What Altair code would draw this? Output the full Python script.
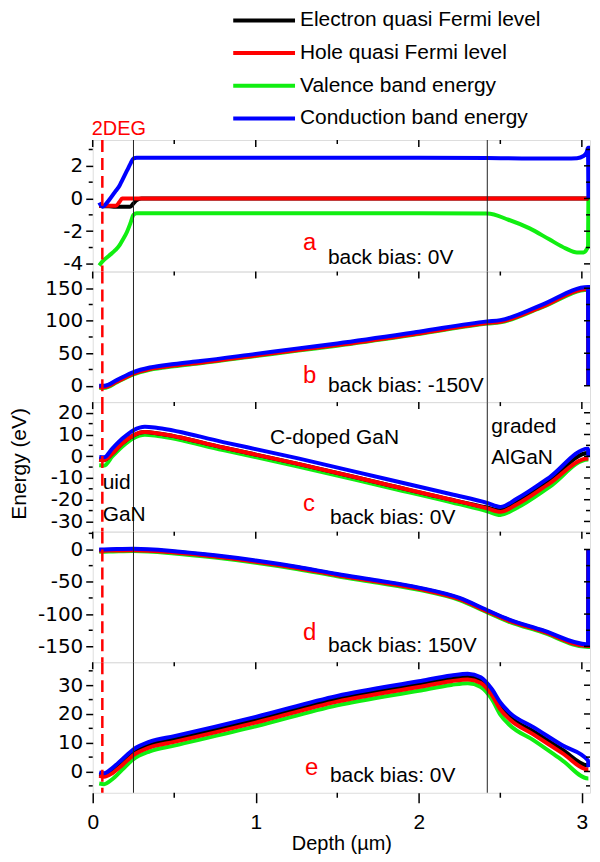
import altair as alt
import pandas as pd

FONT = "Liberation Sans"
TICK_FONT = "DejaVu Sans"
W = 499
X_DOMAIN = [0, 3.05]

series_names = ["Electron quasi Fermi level", "Hole quasi Fermi level",
                "Valence band energy", "Conduction band energy"]
series_colors = ["#000000", "#ff0000", "#11ee11", "#0000ff"]
draw_order = [2, 0, 1, 3]  # valence, electron, hole, conduction

x_major = [0, 1, 2, 3]
x_minor = [0.5, 1.5, 2.5]
region_bounds = [0.25, 2.42]
deg_pos = [0.059]

# ---------------- panel a : back bias 0V ----------------
xa = [0.04, 0.06, 0.10, 0.14, 0.165, 0.18, 0.21, 0.23, 0.25, 0.27, 0.30,
      0.5, 1.0, 1.5, 2.0, 2.42, 2.55, 2.68, 2.8, 2.9, 2.97, 3.01, 3.03, 3.038, 3.04]
efn_a = [-0.45, -0.47, -0.48, -0.5, -0.5, -0.5, -0.5, -0.5, -0.3, -0.1, 0.0,
         0.0, 0.0, 0.0, 0.0, 0.0, 0.0, 0.0, 0.0, 0.0, 0.0, 0.0, 0.0, 0.0, 0.0]
efp_a = [-0.45, -0.45, -0.45, -0.45, -0.2, 0.0, 0.0, 0.0, 0.0, 0.0, 0.0,
         0.0, 0.0, 0.0, 0.0, 0.0, 0.0, 0.0, 0.0, 0.0, 0.0, 0.0, 0.0, 0.0, 0.0]
ev_a = [-4.1, -3.85, -3.5, -3.15, -2.85, -2.6, -2.05, -1.55, -1.0, -0.9, -0.9,
        -0.9, -0.9, -0.9, -0.9, -0.92, -1.3, -1.83, -2.5, -3.05, -3.3, -3.3, -3.1, -2.9, 0.0]
ec_a = [-0.25, -0.5, -0.1, 0.45, 0.8, 1.1, 1.7, 2.1, 2.45, 2.5, 2.5,
        2.5, 2.5, 2.5, 2.5, 2.48, 2.46, 2.45, 2.45, 2.45, 2.47, 2.6, 2.85, 3.1, 0.0]

# ---------------- panel b : back bias -150V ----------------
xb = [0.04, 0.07, 0.15, 0.25, 0.35, 0.5, 0.66, 1.0, 1.26, 1.5, 2.0, 2.42, 2.5, 2.75, 3.038, 3.04]
efn_b = [-1.0, -1.0, 7.5, 19.5, 26.5, 32.0, 36.5, 47.5, 56.0, 63.5, 81.5, 97.5, 99.5, 122.0, 150.0, 0.0]
efp_b = [-2.0, -2.0, 6.5, 18.5, 25.5, 31.0, 35.5, 46.5, 55.0, 62.5, 80.5, 96.5, 98.5, 121.0, 149.0, 0.0]
ev_b = [-3.4, -3.4, 5.6, 17.6, 24.6, 30.1, 34.6, 45.6, 54.1, 61.6, 79.6, 95.6, 97.6, 120.0, 147.5, 0.0]
ec_b = [0.0, 0.0, 9.0, 21.0, 28.0, 33.5, 38.0, 49.0, 57.5, 65.0, 83.0, 99.0, 101.0, 124.0, 152.0, 0.0]

# ---------------- panel c : back bias 0V ----------------
xc = [0.04, 0.07, 0.12, 0.18, 0.25, 0.32, 0.4, 0.8, 1.26, 1.8, 2.2, 2.42, 2.5, 2.6, 2.8, 3.038, 3.04]
efn_c = [-1.5, -1.8, 1.2, 5.9, 9.6, 11.1, 10.5, 4.0, -3.5, -13.0, -20.0, -23.6, -24.8, -21.3, -11.4, 1.5, 1.5]
efp_c = [-1.5, -1.8, 1.2, 5.9, 9.6, 11.1, 10.5, 4.0, -3.5, -13.0, -20.0, -24.0, -25.6, -22.2, -12.6, -1.0, -1.0]
ev_c = [-4.2, -4.3, -0.1, 4.4, 8.3, 9.9, 9.3, 2.8, -4.7, -14.2, -21.2, -25.3, -27.0, -23.8, -14.2, -1.5, -1.5]
ec_c = [-0.3, -0.5, 3.5, 8.0, 12.0, 13.6, 13.0, 6.5, -1.0, -10.5, -17.5, -21.5, -23.3, -19.6, -9.8, 3.5, -0.5]

# ---------------- panel d : back bias 150V ----------------
xd = [0.04, 0.1, 0.25, 0.5, 0.75, 1.0, 1.26, 1.5, 1.75, 2.0, 2.25, 2.42, 2.55, 2.75, 3.038, 3.04]
efn_d = [-1.0, -0.7, 0.0, -3.6, -10.0, -18.0, -28.0, -39.0, -49.0, -60.0, -76.0, -95.0, -109.0, -125.0, -148.5, 0.0]
efp_d = [-2.0, -1.7, -1.0, -4.6, -11.0, -19.0, -29.0, -40.0, -50.0, -61.0, -77.0, -96.0, -110.0, -126.0, -149.5, 0.0]
ev_d = [-3.5, -3.3, -2.5, -6.2, -12.6, -20.6, -30.6, -41.5, -51.5, -62.5, -78.5, -97.5, -111.5, -127.5, -151.0, 0.0]
ec_d = [0.0, 0.3, 1.0, -2.6, -9.0, -17.0, -27.0, -38.0, -48.0, -59.0, -75.0, -94.0, -108.0, -124.0, -147.0, 0.0]

# ---------------- panel e : back bias 0V ----------------
xe = [0.04, 0.07, 0.12, 0.18, 0.25, 0.35, 0.5, 1.0, 1.5, 2.0, 2.2, 2.3, 2.38, 2.45, 2.5, 2.56, 2.7, 2.88, 3.038, 3.04]
efn_e = [-1.0, -1.3, 0.3, 3.2, 6.7, 9.4, 11.3, 18.0, 25.3, 30.4, 32.4, 33.0, 31.8, 27.5, 22.8, 19.0, 14.1, 7.6, 2.1, 2.1]
efp_e = [-1.5, -1.8, -0.6, 2.2, 5.7, 8.4, 10.3, 17.0, 24.3, 29.4, 31.4, 32.0, 30.8, 26.5, 21.6, 18.0, 13.0, 6.4, 0.7, 0.7]
ev_e = [-4.2, -4.4, -2.7, 0.6, 4.3, 7.0, 9.0, 15.7, 23.0, 28.1, 30.1, 30.7, 29.4, 25.0, 19.8, 16.0, 11.0, 3.9, -2.4, -2.4]
ec_e = [-0.3, -0.6, 1.2, 4.2, 7.7, 10.4, 12.3, 19.0, 26.3, 31.4, 33.4, 34.0, 32.8, 28.5, 24.0, 20.3, 15.5, 9.1, 3.8, 1.5]

panels = [
    dict(x=xa, s=[efn_a, efp_a, ev_a, ec_a], dom=[-4.47, 3.58], h=132,
         major=[-4, -2, 0, 2], minor=[-3, -1, 1, 3],
         letter="a", bias="back bias: 0V", lpos=(211, 110), bpos=(236, 124)),
    dict(x=xb, s=[efn_b, efp_b, ev_b, ec_b], dom=[-25.2, 175.7], h=131,
         major=[0, 50, 100, 150], minor=[25, 75, 125],
         letter="b", bias="back bias: -150V", lpos=(211, 112), bpos=(236, 121)),
    dict(x=xc, s=[efn_c, efp_c, ev_c, ec_c], dom=[-34.7, 24.9], h=130,
         major=[-30, -20, -10, 0, 10, 20], minor=[-25, -15, -5, 5, 15],
         letter="c", bias="back bias: 0V", lpos=(211, 109), bpos=(238, 122)),
    dict(x=xd, s=[efn_d, efp_d, ev_d, ec_d], dom=[-174.5, 27.6], h=131,
         major=[-150, -100, -50, 0], minor=[-125, -75, -25, 25],
         letter="d", bias="back bias: 150V", lpos=(211, 109), bpos=(236, 121)),
    dict(x=xe, s=[efn_e, efp_e, ev_e, ec_e], dom=[-7.4, 38.0], h=131,
         major=[0, 10, 20, 30], minor=[-5, 5, 15, 25, 35],
         letter="e", bias="back bias: 0V", lpos=(213, 113), bpos=(238, 120)),
]

region_texts = [("uid", 10, 87), ("GaN", 10, 119), ("C-doped GaN", 178, 42),
                ("graded", 400, 31), ("AlGaN", 400, 62)]

HYPHEN_LABEL = "datum.value < 0 ? '-' + abs(datum.value) : '' + datum.value"


def txt(s, x, y, size=21, color="black", angle=0, align="left", baseline="alphabetic"):
    kw = dict(align=align, baseline=baseline, fontSize=size, font=FONT, color=color)
    if angle:
        kw["angle"] = angle
    return alt.Chart(pd.DataFrame({"t": [s]})).mark_text(**kw).encode(
        x=alt.value(x), y=alt.value(y), text="t:N")


def make_panel(i, p):
    last = i == len(panels) - 1
    H = p["h"]
    xs = alt.Scale(domain=X_DOMAIN, nice=False, zero=False)
    ys = alt.Scale(domain=p["dom"], nice=False, zero=False)
    yaxis = alt.Axis(values=p["major"], labelExpr=HYPHEN_LABEL, tickSize=7, tickWidth=1.5,
                     tickColor="black", domain=False, grid=False, labelFont=TICK_FONT,
                     labelFontSize=20, labelColor="black", labelPadding=3,
                     labelOverlap=False, title=None)
    if last:
        xaxis = alt.Axis(values=x_major, format="d", tickSize=10, tickWidth=1.5,
                         tickColor="black", domain=False, grid=False, labelFont=FONT,
                         labelFontSize=21, labelColor="black", labelPadding=9,
                         labelFlush=False, labelOverlap=False,
                         title="Depth (\u00b5m)", titleFont=FONT, titleFontSize=20,
                         titleFontWeight="normal", titleColor="black",
                         titleBaseline="alphabetic", titlePadding=17)
    else:
        xaxis = None
    X = lambda: alt.X("x:Q", scale=xs, axis=xaxis)
    layers = []
    for si in draw_order:
        df = pd.DataFrame({"x": p["x"], "E": p["s"][si]})
        layers.append(
            alt.Chart(df).mark_line(color=series_colors[si], strokeWidth=4,
                                    interpolate="monotone", clip=True).encode(
                x=X(), y=alt.Y("E:Q", scale=ys, axis=yaxis)))
    # region boundaries and 2DEG marker
    layers.append(alt.Chart(pd.DataFrame({"x": region_bounds})).mark_rule(
        color="#222222", strokeWidth=1).encode(x=X()))
    layers.append(alt.Chart(pd.DataFrame({"x": deg_pos})).mark_rule(
        color="#ff0000", strokeWidth=2.5, strokeDash=[12, 6]).encode(x=X()))
    # inward top ticks
    for vals, ln in ((x_major, 7), (x_minor, 4)):
        layers.append(alt.Chart(pd.DataFrame({"x": vals})).mark_rule(
            color="black", strokeWidth=1.5).encode(
            x=X(), y=alt.value(0), y2=alt.value(ln)))
    # inward right ticks
    for vals, ln in ((p["major"], 6), (p["minor"], 4)):
        layers.append(alt.Chart(pd.DataFrame({"E": vals})).mark_rule(
            color="black", strokeWidth=1.5).encode(
            y=alt.Y("E:Q", scale=ys, axis=yaxis), x=alt.value(W - ln), x2=alt.value(W)))
    # outward left minor ticks
    layers.append(alt.Chart(pd.DataFrame({"E": p["minor"]})).mark_rule(
        color="black", strokeWidth=1.5).encode(
        y=alt.Y("E:Q", scale=ys, axis=yaxis), x=alt.value(-4), x2=alt.value(0)))
    if last:
        layers.append(alt.Chart(pd.DataFrame({"x": x_minor})).mark_rule(
            color="black", strokeWidth=1.5).encode(
            x=X(), y=alt.value(H), y2=alt.value(H + 5)))
    # annotations
    layers.append(txt(p["letter"], p["lpos"][0], p["lpos"][1], size=24, color="#ff0000"))
    layers.append(txt(p["bias"], p["bpos"][0], p["bpos"][1], size=21))
    if i == 0:
        layers.append(txt("2DEG", -1, -5, size=20, color="#ff0000"))
    if i == 2:
        for s, tx, ty in region_texts:
            layers.append(txt(s, tx, ty, size=21))
        layers.append(txt("Energy (eV)", -84, 62, size=21, angle=270,
                          align="center", baseline="top"))
    return alt.layer(*layers).properties(width=W, height=H)


# legend block
leg_df = pd.DataFrame({"name": series_names, "row": [0, 1, 2, 3]})
row_scale = alt.Scale(type="point", range=[10, 108.4], padding=0)
leg_rule = alt.Chart(leg_df).mark_rule(strokeWidth=4).encode(
    y=alt.Y("row:O", scale=row_scale, axis=None),
    x=alt.value(141), x2=alt.value(203),
    color=alt.Color("name:N", scale=alt.Scale(domain=series_names, range=series_colors),
                    legend=None))
leg_text = alt.Chart(leg_df).mark_text(align="left", baseline="middle", fontSize=21,
                                       font=FONT, color="black").encode(
    y=alt.Y("row:O", scale=row_scale, axis=None), x=alt.value(208), text="name:N")
legend = alt.layer(leg_rule, leg_text).properties(
    width=W, height=130, view=alt.ViewBackground(strokeOpacity=0))

chart = alt.vconcat(legend, *[make_panel(i, p) for i, p in enumerate(panels)],
                    spacing=0, bounds="flush").properties(
    padding={"left": 0, "top": 0, "right": 0, "bottom": 0}
).configure_view(stroke="black", strokeWidth=2).configure(font=FONT)

chart.save("out.html", embed_options={"renderer": "svg", "actions": False})
